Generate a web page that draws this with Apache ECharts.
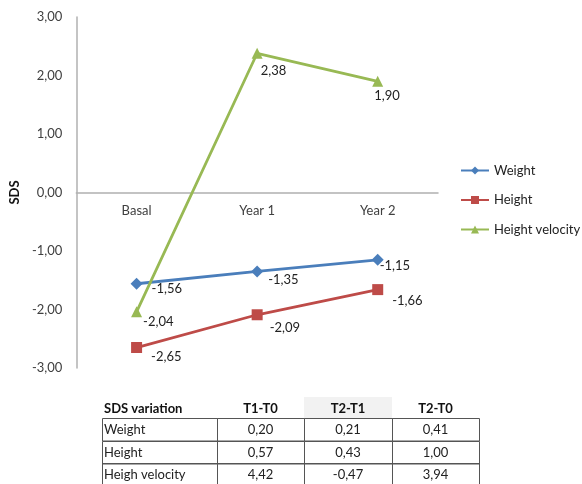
<!DOCTYPE html>
<html>
<head>
<meta charset="utf-8">
<script src="https://cdn.jsdelivr.net/npm/echarts@6/dist/echarts.min.js"></script>
<style>
html,body{margin:0;padding:0;background:#fff;}
#c{width:582px;height:484px;}
</style>
</head>
<body>
<div id="c"></div>
<script>
const categories = ['Basal', 'Year 1', 'Year 2'];
const weight = [-1.56, -1.35, -1.15];
const height = [-2.65, -2.09, -1.66];
const heightVelocity = [-2.04, 2.38, 1.90];
const yTicks = {min: -3, max: 3, interval: 1};

const tableHeader = ['SDS variation', 'T1-T0', 'T2-T1', 'T2-T0'];
const tableRowNames = ['Weight', 'Height', 'Heigh velocity'];
const tableT1T0 = ['0,20', '0,57', '4,42'];
const tableT2T1 = ['0,21', '0,43', '-0,47'];
const tableT2T0 = ['0,41', '1,00', '3,94'];

// label nudges (style only)
const nudgeWeight = [[4,5],[0,8],[-9,6]];
const nudgeHeight = [[4,9],[2,13],[4,11]];
const nudgeHV = [[-4,10],[-7,18],[-14,14]];

const FONT = 'Lato';
const fmt = v => v.toFixed(2).replace('.', ',');

function items(vals, nudges) {
  return vals.map((v, i) => ({value: v, label: {offset: nudges[i]}}));
}

function mkSeries(name, vals, nudges, color, symbol, size) {
  return {
    name, type: 'line', data: items(vals, nudges),
    symbol, symbolSize: size,
    lineStyle: {color, width: 2.8},
    itemStyle: {color},
    label: {show: true, position: 'right', distance: 5,
      formatter: p => fmt(p.value), color: '#222', fontFamily: FONT, fontSize: 13},
    emphasis: {disabled: true}, animation: false
  };
}

// table graphic
const colEdges = [102, 217, 304, 392, 479];
const headTop = 397, rowTop = 418, rowH = 22.5;
const g = [];
g.push({type: 'rect', shape: {x: colEdges[2], y: headTop, width: colEdges[3]-colEdges[2], height: rowTop-headTop}, style: {fill: '#F2F2F2'}, silent: true});
tableHeader.forEach((t, i) => {
  const left = i === 0;
  g.push({type: 'text', x: left ? colEdges[0]+2 : (colEdges[i]+colEdges[i+1])/2, y: (headTop+rowTop)/2+1,
    style: {text: t, font: 'bold 13px ' + FONT, fill: '#111', align: left ? 'left' : 'center', verticalAlign: 'middle'}, silent: true});
});
const cols = [tableRowNames, tableT1T0, tableT2T1, tableT2T0];
for (let r = 0; r < tableRowNames.length; r++) {
  const y = rowTop + r*rowH;
  for (let c = 0; c < 4; c++) {
    g.push({type: 'rect', shape: {x: colEdges[c]+0.5, y: Math.round(y)+0.5, width: colEdges[c+1]-colEdges[c], height: rowH},
      style: {fill: 'none', stroke: '#555', lineWidth: 1}, silent: true});
    const left = c === 0;
    g.push({type: 'text', x: left ? colEdges[0]+2 : (colEdges[c]+colEdges[c+1])/2, y: y + rowH/2 + 1,
      style: {text: cols[c][r], font: '13px ' + FONT, fill: '#222', align: left ? 'left' : 'center', verticalAlign: 'middle'}, silent: true});
  }
}

const gridTop = 17, gridBottom = 116, H = 484;
const plotH = H - gridTop - gridBottom;
const zeroFromBottom = plotH * (0 - yTicks.min) / (yTicks.max - yTicks.min);

const chart = echarts.init(document.getElementById('c'), null, {renderer: 'canvas'});
chart.setOption({
  backgroundColor: '#fff',
  animation: false,
  grid: {left: 72, right: 144, top: gridTop, bottom: gridBottom, containLabel: false},
  legend: {
    orient: 'vertical', left: 455, top: 159, itemGap: 16.5, itemWidth: 28, itemHeight: 10,
    textStyle: {fontFamily: FONT, fontSize: 13, color: '#222'},
    data: ['Weight', 'Height', 'Height velocity']
  },
  xAxis: {
    type: 'category', data: categories, boundaryGap: true, position: 'bottom',
    offset: -zeroFromBottom,
    axisLine: {onZero: false, lineStyle: {color: '#B0B0B0', width: 1.5}},
    axisTick: {show: false},
    axisLabel: {color: '#404040', fontFamily: FONT, fontSize: 13, margin: 12}
  },
  yAxis: {
    type: 'value', min: yTicks.min, max: yTicks.max, interval: yTicks.interval,
    name: 'SDS', nameLocation: 'middle', nameGap: 50, nameRotate: 90,
    nameTextStyle: {fontFamily: FONT, fontSize: 13, fontWeight: 'bold', color: '#111'},
    axisLine: {show: true, lineStyle: {color: '#B0B0B0', width: 1.5}},
    axisTick: {show: false},
    splitLine: {show: false},
    axisLabel: {color: '#404040', fontFamily: FONT, fontSize: 13, margin: 14, formatter: v => fmt(v)}
  },
  series: [
    mkSeries('Weight', weight, nudgeWeight, '#4A7EBB', 'diamond', 12),
    mkSeries('Height', height, nudgeHeight, '#BE4B48', 'rect', 11),
    mkSeries('Height velocity', heightVelocity, nudgeHV, '#98B954', 'triangle', 11)
  ],
  graphic: g
});
</script>
</body>
</html>
